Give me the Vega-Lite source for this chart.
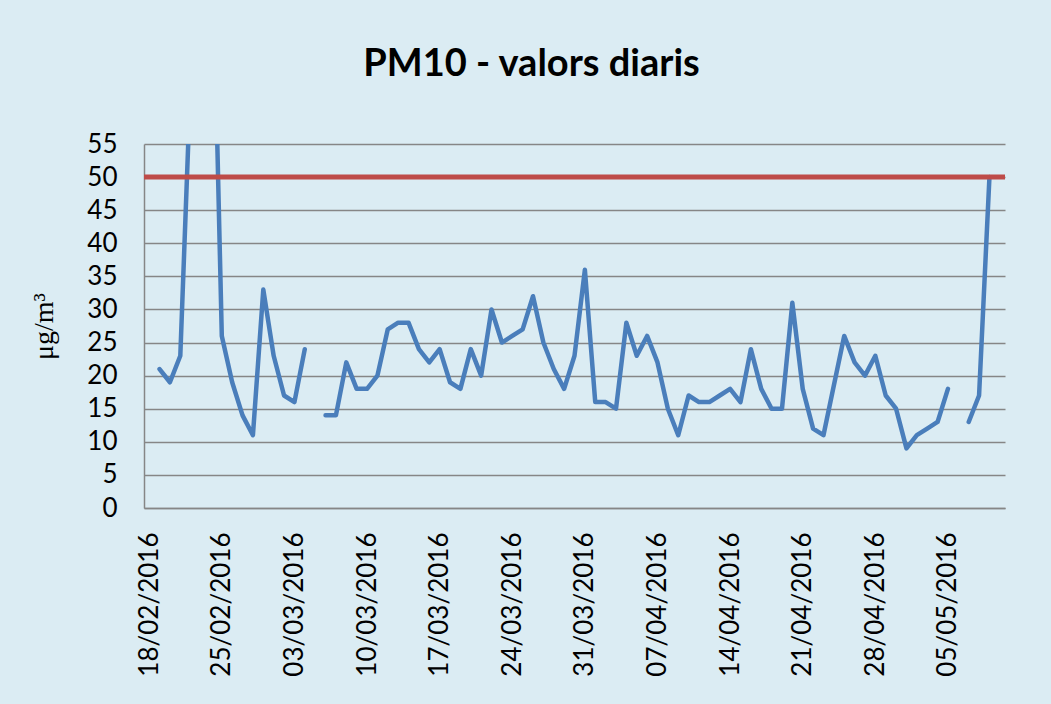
{
  "$schema": "https://vega.github.io/schema/vega-lite/v6.json",
  "width": 861,
  "height": 364,
  "autosize": {"type": "none"},
  "padding": {"left": 144, "top": 144, "right": 46, "bottom": 196},
  "background": "#DBECF3",
  "config": {
    "view": {"stroke": null},
    "font": "Lato",
    "axisY": {
      "values": [0, 5, 10, 15, 20, 25, 30, 35, 40, 45, 50, 55],
      "labelFont": "Lato",
      "labelFontSize": 26,
      "labelColor": "#000000",
      "labelPadding": 27,
      "labelOverlap": false,
      "labelFlush": false,
      "ticks": false,
      "grid": true,
      "gridColor": "#868686",
      "gridWidth": 1.5,
      "domainColor": "#868686",
      "domainWidth": 1.5,
      "titleFont": "Liberation Serif",
      "titleFontSize": 28,
      "titleFontWeight": "normal",
      "titleColor": "#000000",
      "titleAngle": 270,
      "titleAlign": "center",
      "titleBaseline": "middle",
      "titleX": -100,
      "titleY": 182
    }
  },
  "title": {
    "text": "PM10 - valors diaris",
    "font": "Lato",
    "fontSize": 38,
    "fontWeight": "bold",
    "color": "#000000",
    "anchor": "middle",
    "dx": -43,
    "baseline": "alphabetic",
    "offset": 17
  },
  "data": {
    "values": [
      {"date": "2016-02-18", "pm10": null},
      {"date": "2016-02-19", "pm10": 21},
      {"date": "2016-02-20", "pm10": 19},
      {"date": "2016-02-21", "pm10": 23},
      {"date": "2016-02-22", "pm10": 65},
      {"date": "2016-02-23", "pm10": 80},
      {"date": "2016-02-24", "pm10": 93},
      {"date": "2016-02-25", "pm10": 26},
      {"date": "2016-02-26", "pm10": 19},
      {"date": "2016-02-27", "pm10": 14},
      {"date": "2016-02-28", "pm10": 11},
      {"date": "2016-02-29", "pm10": 33},
      {"date": "2016-03-01", "pm10": 23},
      {"date": "2016-03-02", "pm10": 17},
      {"date": "2016-03-03", "pm10": 16},
      {"date": "2016-03-04", "pm10": 24},
      {"date": "2016-03-05", "pm10": null},
      {"date": "2016-03-06", "pm10": 14},
      {"date": "2016-03-07", "pm10": 14},
      {"date": "2016-03-08", "pm10": 22},
      {"date": "2016-03-09", "pm10": 18},
      {"date": "2016-03-10", "pm10": 18},
      {"date": "2016-03-11", "pm10": 20},
      {"date": "2016-03-12", "pm10": 27},
      {"date": "2016-03-13", "pm10": 28},
      {"date": "2016-03-14", "pm10": 28},
      {"date": "2016-03-15", "pm10": 24},
      {"date": "2016-03-16", "pm10": 22},
      {"date": "2016-03-17", "pm10": 24},
      {"date": "2016-03-18", "pm10": 19},
      {"date": "2016-03-19", "pm10": 18},
      {"date": "2016-03-20", "pm10": 24},
      {"date": "2016-03-21", "pm10": 20},
      {"date": "2016-03-22", "pm10": 30},
      {"date": "2016-03-23", "pm10": 25},
      {"date": "2016-03-24", "pm10": 26},
      {"date": "2016-03-25", "pm10": 27},
      {"date": "2016-03-26", "pm10": 32},
      {"date": "2016-03-27", "pm10": 25},
      {"date": "2016-03-28", "pm10": 21},
      {"date": "2016-03-29", "pm10": 18},
      {"date": "2016-03-30", "pm10": 23},
      {"date": "2016-03-31", "pm10": 36},
      {"date": "2016-04-01", "pm10": 16},
      {"date": "2016-04-02", "pm10": 16},
      {"date": "2016-04-03", "pm10": 15},
      {"date": "2016-04-04", "pm10": 28},
      {"date": "2016-04-05", "pm10": 23},
      {"date": "2016-04-06", "pm10": 26},
      {"date": "2016-04-07", "pm10": 22},
      {"date": "2016-04-08", "pm10": 15},
      {"date": "2016-04-09", "pm10": 11},
      {"date": "2016-04-10", "pm10": 17},
      {"date": "2016-04-11", "pm10": 16},
      {"date": "2016-04-12", "pm10": 16},
      {"date": "2016-04-13", "pm10": 17},
      {"date": "2016-04-14", "pm10": 18},
      {"date": "2016-04-15", "pm10": 16},
      {"date": "2016-04-16", "pm10": 24},
      {"date": "2016-04-17", "pm10": 18},
      {"date": "2016-04-18", "pm10": 15},
      {"date": "2016-04-19", "pm10": 15},
      {"date": "2016-04-20", "pm10": 31},
      {"date": "2016-04-21", "pm10": 18},
      {"date": "2016-04-22", "pm10": 12},
      {"date": "2016-04-23", "pm10": 11},
      {"date": "2016-04-24", "pm10": 18.5},
      {"date": "2016-04-25", "pm10": 26},
      {"date": "2016-04-26", "pm10": 22},
      {"date": "2016-04-27", "pm10": 20},
      {"date": "2016-04-28", "pm10": 23},
      {"date": "2016-04-29", "pm10": 17},
      {"date": "2016-04-30", "pm10": 15},
      {"date": "2016-05-01", "pm10": 9},
      {"date": "2016-05-02", "pm10": 11},
      {"date": "2016-05-03", "pm10": 12},
      {"date": "2016-05-04", "pm10": 13},
      {"date": "2016-05-05", "pm10": 18},
      {"date": "2016-05-06", "pm10": null},
      {"date": "2016-05-07", "pm10": 13},
      {"date": "2016-05-08", "pm10": 17},
      {"date": "2016-05-09", "pm10": 50},
      {"date": "2016-05-10", "pm10": null}
    ]
  },
  "layer": [
    {
      "mark": {
        "type": "line",
        "color": "#4A7EBB",
        "strokeWidth": 4.5,
        "clip": true,
        "invalid": "break-paths-show-domains",
        "strokeJoin": "round",
        "strokeCap": "round"
      },
      "encoding": {
        "x": {
          "field": "date",
          "type": "temporal",
          "timeUnit": "utcyearmonthdate",
          "scale": {
            "domain": [
              {"year": 2016, "month": 2, "date": 17, "hours": 12, "utc": true},
              {"year": 2016, "month": 5, "date": 10, "hours": 12, "utc": true}
            ]
          },
          "axis": {
            "title": null,
            "values": [
              {"year": 2016, "month": 2, "date": 18, "utc": true},
              {"year": 2016, "month": 2, "date": 25, "utc": true},
              {"year": 2016, "month": 3, "date": 3, "utc": true},
              {"year": 2016, "month": 3, "date": 10, "utc": true},
              {"year": 2016, "month": 3, "date": 17, "utc": true},
              {"year": 2016, "month": 3, "date": 24, "utc": true},
              {"year": 2016, "month": 3, "date": 31, "utc": true},
              {"year": 2016, "month": 4, "date": 7, "utc": true},
              {"year": 2016, "month": 4, "date": 14, "utc": true},
              {"year": 2016, "month": 4, "date": 21, "utc": true},
              {"year": 2016, "month": 4, "date": 28, "utc": true},
              {"year": 2016, "month": 5, "date": 5, "utc": true}
            ],
            "format": "%d/%m/%Y",
            "labelAngle": 270,
            "labelFont": "Lato",
            "labelFontSize": 26,
            "labelColor": "#000000",
            "labelPadding": 24,
            "labelOverlap": false,
            "labelBound": false,
            "labelFlush": false,
            "ticks": false,
            "grid": false,
            "domainColor": "#868686",
            "domainWidth": 1.5
          }
        },
        "y": {
          "field": "pm10",
          "type": "quantitative",
          "title": "μg/m³",
          "scale": {"domain": [0, 55], "nice": false, "zero": true}
        }
      }
    },
    {
      "data": {"values": [{"limit": 50}]},
      "mark": {"type": "rule", "color": "#BE4B48", "strokeWidth": 5},
      "encoding": {
        "y": {"field": "limit", "type": "quantitative", "title": "μg/m³"}
      }
    }
  ]
}
